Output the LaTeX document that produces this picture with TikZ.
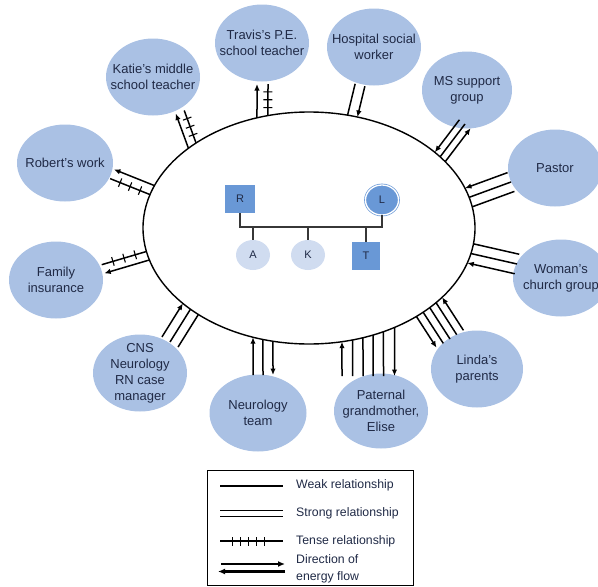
\documentclass[tikz,border=0pt]{standalone}
\usepackage{fontspec}
\setmainfont{Liberation Sans}
\usetikzlibrary{calc,intersections,arrows.meta,decorations.markings,shapes.geometric}
\definecolor{outerblue}{RGB}{170,193,228}
\definecolor{midblue}{RGB}{105,152,214}
\definecolor{paleblue}{RGB}{208,220,240}
\definecolor{txt}{RGB}{32,42,70}
\definecolor{famgray}{RGB}{55,55,55}
\tikzset{
  outer/.style={ellipse, fill=outerblue, inner sep=0pt, minimum width=94pt, minimum height=77pt},
  otext/.style={align=center, text=txt, inner sep=0pt, font=\fontsize{13}{16}\selectfont},
  rel/.style={line width=1.5pt},
  aout/.style={rel, -{Latex[length=6.5pt,width=5.5pt]}},
  ain/.style={rel, {Latex[length=6.5pt,width=5.5pt]}-},
  tense/.style={rel, postaction={decorate, decoration={markings,
     mark=at position .25 with {\draw[line width=1.1pt] (0pt,-4.5pt) -- (0pt,4.5pt);},
     mark=at position .5 with {\draw[line width=1.1pt] (0pt,-4.5pt) -- (0pt,4.5pt);},
     mark=at position .75 with {\draw[line width=1.1pt] (0pt,-4.5pt) -- (0pt,4.5pt);}}}},
  famsq/.style={rectangle, fill=midblue, minimum width=30pt, minimum height=28pt, inner sep=0pt, text=txt, font=\fontsize{11}{13}\selectfont},
  famkid/.style={ellipse, fill=paleblue, minimum width=34pt, minimum height=30pt, inner sep=0pt, text=txt, font=\fontsize{11}{13}\selectfont},
  famL/.style={ellipse, fill=midblue, draw=midblue, double=white, double distance=1.3pt, line width=0.7pt, minimum width=33pt, minimum height=30pt, inner sep=0pt, text=txt, font=\fontsize{11}{13}\selectfont},
  famline/.style={draw=famgray, line width=1.6pt},
  legtxt/.style={anchor=west, align=left, text=txt, inner sep=0pt, font=\fontsize{12.3}{17}\selectfont},
  legtense/.style={line width=1.6pt, postaction={decorate, decoration={markings,
     mark=at position .2 with {\draw[line width=1.1pt] (0pt,-4.5pt) -- (0pt,4.5pt);},
     mark=at position .325 with {\draw[line width=1.1pt] (0pt,-4.5pt) -- (0pt,4.5pt);},
     mark=at position .45 with {\draw[line width=1.1pt] (0pt,-4.5pt) -- (0pt,4.5pt);},
     mark=at position .575 with {\draw[line width=1.1pt] (0pt,-4.5pt) -- (0pt,4.5pt);},
     mark=at position .7 with {\draw[line width=1.1pt] (0pt,-4.5pt) -- (0pt,4.5pt);}}}},
  legflow/.style={line width=2.2pt, -{Latex[length=7pt,width=6pt]}},
}
% #1 style, #2 ellipse-side coordinate, #3 outer coordinate, #4 perpendicular offset
\newcommand\relline[4]{%
  \coordinate (pIn) at ($(#2)!#4!90:(#3)$);
  \coordinate (pOut) at ($(#3)!#4!-90:(#2)$);
  \path[name path=tmpline] (pOut) -- ($(pIn)!-30pt!(pOut)$);
  \draw[name intersections={of=tmpline and big, by=ix}, #1] (ix) -- (pOut);
}
\begin{document}
\begin{tikzpicture}[x=1pt,y=-1pt]
\clip (0,0) rectangle (598,587);
% central household ellipse
\path[draw, line width=1.4pt, name path=big] (309,228) ellipse [x radius=166pt, y radius=116pt];

% outer systems
\node[outer] (travis) at (262,43) {};
\node[otext] (travisT) at (travis.center) {Travis's P.E.\\school teacher};
\node[outer] (hosp) at (374,47) {};
\node[otext] (hospT) at (hosp.center) {Hospital social\\worker};
\node[outer] (katie) at (153,77) {};
\node[otext] (katieT) at (katie.center) {Katie's middle\\school teacher};
\node[outer, minimum width=90pt] (ms) at (467,90) {};
\node[otext] (msT) at (ms.center) {MS support\\group};
\node[outer, minimum width=96pt] (robert) at (65,163) {};
\node[otext] (robertT) at (robert.center) {Robert's work};
\node[outer] (family) at (56,280) {};
\node[otext] (familyT) at (family.center) {Family\\insurance};
\node[outer] (pastor) at (555,168) {};
\node[otext] (pastorT) at (pastor.center) {Pastor};
\node[outer, minimum width=96pt] (woman) at (561,278) {};
\node[otext] (womanT) at (woman.center) {Woman's\\church group};
\node[outer, minimum width=92pt] (linda) at (477,369) {};
\node[otext] (lindaT) at (linda.center) {Linda's\\parents};
\node[outer, minimum height=75pt] (grand) at (381,411) {};
\node[otext] (grandT) at (grand.center) {Paternal\\grandmother,\\Elise};
\node[outer, minimum width=97pt] (team) at (258,413) {};
\node[otext] (teamT) at (team.center) {Neurology\\team};
\node[outer] (cns) at (140,373) {};
\node[otext] (cnsT) at (cns.center) {CNS\\Neurology\\RN case\\manager};

% bundle end points (ellipse side e.., outer side o..)
\coordinate (eTr) at (262.5,117); \coordinate (oTr) at (262.5,84);
\coordinate (eKa) at (192,145);   \coordinate (oKa) at (180,112);
\coordinate (eHo) at (352.5,116); \coordinate (oHo) at (360,85);
\coordinate (eMS) at (440,157);   \coordinate (oMS) at (465,124);
\coordinate (ePa) at (470,197);   \coordinate (oPa) at (511,182);
\coordinate (eWo) at (473,254);   \coordinate (oWo) at (517,264);
\coordinate (eLi) at (430,308);   \coordinate (oLi) at (450,339);
\coordinate (eGr) at (368,338);   \coordinate (oGr) at (368,376);
\coordinate (eNt) at (263,340);   \coordinate (oNt) at (263,375);
\coordinate (eCn) at (190,310);   \coordinate (oCn) at (170,342);
\coordinate (eFa) at (147,256);   \coordinate (oFa) at (103,269);
\coordinate (eRo) at (152,190);   \coordinate (oRo) at (112,174);

% Travis
\relline{aout}{eTr}{oTr}{5.5pt}
\relline{tense}{eTr}{oTr}{-5.5pt}
% Katie
\relline{aout}{eKa}{oKa}{4.5pt}
\relline{tense}{eKa}{oKa}{-4.5pt}
% Hospital
\relline{rel}{eHo}{oHo}{5pt}
\relline{ain}{eHo}{oHo}{-5pt}
% MS support
\relline{ain}{eMS}{oMS}{7pt}
\relline{rel}{eMS}{oMS}{0pt}
\relline{aout}{eMS}{oMS}{-7pt}
% Pastor
\relline{ain}{ePa}{oPa}{10pt}
\relline{rel}{ePa}{oPa}{0pt}
\relline{rel}{ePa}{oPa}{-10pt}
% Woman's church group
\relline{rel}{eWo}{oWo}{10pt}
\relline{rel}{eWo}{oWo}{0pt}
\relline{ain}{eWo}{oWo}{-10pt}
% Linda's parents
\relline{ain}{eLi}{oLi}{16pt}
\relline{rel}{eLi}{oLi}{8pt}
\relline{rel}{eLi}{oLi}{0pt}
\relline{rel}{eLi}{oLi}{-8pt}
\relline{aout}{eLi}{oLi}{-16pt}
% Paternal grandmother
\relline{ain}{eGr}{oGr}{-26pt}
\relline{rel}{eGr}{oGr}{-15.5pt}
\relline{rel}{eGr}{oGr}{-5pt}
\relline{rel}{eGr}{oGr}{5pt}
\relline{rel}{eGr}{oGr}{15.5pt}
\relline{aout}{eGr}{oGr}{26.5pt}
% Neurology team
\relline{ain}{eNt}{oNt}{-10pt}
\relline{rel}{eNt}{oNt}{0pt}
\relline{aout}{eNt}{oNt}{10pt}
% CNS case manager
\relline{ain}{eCn}{oCn}{-9.5pt}
\relline{rel}{eCn}{oCn}{0pt}
\relline{rel}{eCn}{oCn}{9.5pt}
% Family insurance
\relline{tense}{eFa}{oFa}{-4.5pt}
\relline{aout}{eFa}{oFa}{4.5pt}
% Robert's work
\relline{aout}{eRo}{oRo}{-5pt}
\relline{tense}{eRo}{oRo}{5pt}

% family genogram
\node[famsq] (R) at (240,199) {R};
\node[famL] (L) at (382,200) {L};
\node[famsq, minimum width=28pt] (T) at (366,256) {T};
\node[famkid] (A) at (253,255) {A};
\node[famkid] (K) at (308,255) {K};
\coordinate (bar) at (0,227);
\draw[famline] (R.south) -- (R.south |- bar) -- (L.south |- bar) -- (L.south);
\draw[famline] (A.north |- bar) -- (A.north);
\draw[famline] (K.north |- bar) -- (K.north);
\draw[famline] (T.north |- bar) -- (T.north);

% legend
\draw[line width=0.9pt] (207,470) rectangle (413,585);
\coordinate (lw1) at (220,486);   \coordinate (lw2) at (283,486);
\coordinate (ls1) at (220,510.5); \coordinate (ls2) at (283,510.5);
\coordinate (ls3) at (220,516.5); \coordinate (ls4) at (283,516.5);
\coordinate (lt1) at (220,541);   \coordinate (lt2) at (283,541);
\coordinate (lf1) at (221,564);   \coordinate (lf2) at (285,564);
\coordinate (lf3) at (285,571.5); \coordinate (lf4) at (218,571.5);
\draw[line width=1.8pt] (lw1) -- (lw2);
\draw[line width=1.6pt] (ls1) -- (ls2);
\draw[line width=1.6pt] (ls3) -- (ls4);
\draw[legtense] (lt1) -- (lt2);
\draw[legflow] (lf1) -- (lf2);
\draw[legflow] (lf3) -- (lf4);
\node[legtxt] (lgw) at (296,485) {Weak relationship};
\node[legtxt] (lgs) at (296,513) {Strong relationship};
\node[legtxt] (lgt) at (296,541) {Tense relationship};
\node[legtxt] (lgf) at (296,568.5) {Direction of\\energy flow};
\end{tikzpicture}
\end{document}
